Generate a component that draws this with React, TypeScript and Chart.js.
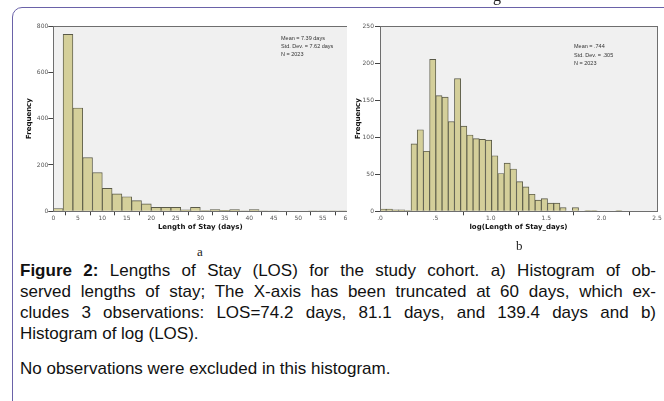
import React, { useEffect, useRef } from "react";
import { Chart, registerables } from "chart.js";
Chart.register(...registerables);

// ---- Data: histogram a) Length of Stay (days), 2-day bins from 0 to 60
const losBinStart = 0;
const losBinWidth = 2;
const losCounts = [12, 764, 446, 232, 167, 99, 75, 63, 46, 32, 17, 17, 17, 6, 17, 3, 7, 4, 7, 1, 7, 2, 1, 0, 0, 0, 1, 1, 1, 1];
const losXMax = 60;
const losXStep = 5;
const losYMax = 800;
const losYStep = 200;
const losStats = ["Mean = 7.39 days", "Std. Dev. = 7.62 days", "N = 2023"];

// ---- Data: histogram b) log(Length of Stay_days)
const logBinStart = 0;
const logBinWidth = 0.056;
const logCounts = [3, 3, 2, 2, 1, 91, 110, 81, 205, 156, 154, 121, 179, 115, 103, 98, 97, 96, 75, 51, 65, 57, 40, 33, 23, 15, 17, 11, 11, 5, 0, 5, 0, 1, 1, 0, 0, 0, 1];
const logXMax = 2.5;
const logXStep = 0.5;
const logTickLabels = [".0", ".5", "1.0", "1.5", "2.0", "2.5"];
const logYMax = 250;
const logYStep = 50;
const logStats = ["Mean = .744", "Std. Dev. = .305", "N = 2023"];

const freqTitle = "Frequency";
const losTitle = "Length of Stay (days)";
const logTitle = "log(Length of Stay_days)";

const captionLead = "Figure 2:";
const captionLines = [
  " Lengths of Stay (LOS) for the study cohort. a) Histogram of ob-",
  "served lengths of stay; The X-axis has been truncated at 60 days, which ex-",
  "cludes 3 observations: LOS=74.2 days, 81.1 days, and 139.4 days and b)",
  "Histogram of log (LOS).",
];
const noteText = "No observations were excluded in this histogram.";

const BAR_FILL = "#d4cf9a";
const BAR_EDGE = "#5a5a48";
const PLOT_BG = "#f0f0f0";
const FRAME = "#6e6e6e";
const TICK = "#444";
const TICK_LABEL = "#555";
const FONT = "DejaVu Sans";

const framePlugin = {
  id: "spssFrame",
  beforeDraw(chart: any) {
    const { ctx, chartArea } = chart;
    const { left, top, right, bottom } = chartArea;
    ctx.save();
    ctx.fillStyle = PLOT_BG;
    ctx.fillRect(left, top, right - left, bottom - top);
    ctx.restore();
  },
  afterDatasetsDraw(chart: any) {
    const { ctx, chartArea } = chart;
    const { left, top, right, bottom } = chartArea;
    ctx.save();
    ctx.strokeStyle = FRAME;
    ctx.lineWidth = 1;
    ctx.strokeRect(Math.round(left) + 0.5, Math.round(top) + 0.5, Math.round(right - left), Math.round(bottom - top));
    ctx.restore();
  },
};

type HistProps = {
  counts: number[];
  binStart: number;
  binWidth: number;
  xMax: number;
  xStep: number;
  yMax: number;
  yStep: number;
  xLabel: (v: number, i: number) => string;
  xTitle: string;
  width: number;
  height: number;
  padLeftAxis: number;
  padRight: number;
  padTop: number;
  xAxisHeight: number;
  yTitlePad: number;
  yTickPad: number;
};

function Histogram(p: HistProps) {
  const ref = useRef<HTMLCanvasElement | null>(null);
  useEffect(() => {
    if (!ref.current) return;
    const data = p.counts.map((c, i) => ({ x: p.binStart + (i + 0.5) * p.binWidth, y: c }));
    const chart = new Chart(ref.current, {
      type: "bar",
      data: {
        datasets: [
          {
            data: data as any,
            backgroundColor: BAR_FILL,
            borderColor: BAR_EDGE,
            borderWidth: 0.9,
            barPercentage: 1,
            categoryPercentage: 1,
          },
        ],
      },
      options: {
        animation: false,
        responsive: false,
        devicePixelRatio: 1,
        layout: { padding: { left: 0, top: p.padTop, right: p.padRight, bottom: 0 } },
        plugins: { legend: { display: false }, tooltip: { enabled: false }, title: { display: false } },
        scales: {
          x: {
            type: "linear",
            min: 0,
            max: p.xMax,
            offset: false,
            grid: { drawOnChartArea: false, drawTicks: true, tickLength: 4, color: TICK },
            border: { display: false },
            ticks: {
              stepSize: p.xStep,
              padding: 0,
              color: TICK_LABEL,
              font: { family: FONT, size: 6 },
              maxRotation: 0,
              autoSkip: false,
              callback: (v: any, i: number) => p.xLabel(Number(v), i),
            },
            title: {
              display: true,
              text: p.xTitle,
              color: "#111",
              font: { family: FONT, size: 7, weight: "bold" },
              padding: { top: 0, bottom: 3.8 },
            },
            afterFit: (s: any) => {
              s.height = p.xAxisHeight;
            },
          },
          y: {
            min: 0,
            max: p.yMax,
            grid: { drawOnChartArea: false, drawTicks: true, tickLength: 5, color: TICK },
            border: { display: false },
            ticks: {
              stepSize: p.yStep,
              padding: p.yTickPad,
              color: TICK_LABEL,
              font: { family: FONT, size: 6 },
            },
            title: {
              display: true,
              text: freqTitle,
              color: "#111",
              font: { family: FONT, size: 7, weight: "bold" },
              padding: { top: p.yTitlePad, bottom: 0 },
            },
            afterFit: (s: any) => {
              s.width = p.padLeftAxis;
            },
          },
        },
      },
      plugins: [framePlugin],
    });
    return () => chart.destroy();
  }, []);
  return <canvas ref={ref} width={p.width} height={p.height} style={{ width: p.width, height: p.height, display: "block" }} />;
}

const statStyle: React.CSSProperties = {
  position: "absolute",
  fontFamily: "Liberation Sans",
  fontSize: 5.5,
  lineHeight: "8px",
  color: "#333",
  whiteSpace: "nowrap",
  zIndex: 3,
};

const lineStyle = (justify: boolean): React.CSSProperties => ({
  textAlign: justify ? "justify" : "left",
  textAlignLast: justify ? "justify" : "left",
  whiteSpace: "nowrap",
  height: 21,
});

export default function App() {
  return (
    <div style={{ position: "absolute", left: 0, top: 0, width: 664, height: 401, overflow: "hidden", background: "#fff" }}>
      <div style={{ position: "absolute", left: 0, top: 0 }}>
        <Histogram
          counts={losCounts}
          binStart={losBinStart}
          binWidth={losBinWidth}
          xMax={losXMax}
          xStep={losXStep}
          yMax={losYMax}
          yStep={losYStep}
          xLabel={(v) => String(v)}
          xTitle={losTitle}
          width={380}
          height={235}
          padLeftAxis={53.3}
          padRight={32.7}
          padTop={26}
          xAxisHeight={23.7}
          yTitlePad={25.3}
          yTickPad={0}
        />
      </div>
      <div style={{ ...statStyle, left: 281, top: 34 }}>
        {losStats.map((s) => (
          <div key={s}>{s}</div>
        ))}
      </div>
      <div style={{ position: "absolute", left: 347, top: 0, background: "#fff" }}>
        <Histogram
          counts={logCounts}
          binStart={logBinStart}
          binWidth={logBinWidth}
          xMax={logXMax}
          xStep={logXStep}
          yMax={logYMax}
          yStep={logYStep}
          xLabel={(v, i) => logTickLabels[i] ?? String(v)}
          xTitle={logTitle}
          width={317}
          height={235}
          padLeftAxis={33}
          padRight={7}
          padTop={26}
          xAxisHeight={23.7}
          yTitlePad={6.8}
          yTickPad={1}
        />
      </div>
      <div style={{ ...statStyle, left: 574, top: 42, lineHeight: "8.7px" }}>
        {logStats.map((s) => (
          <div key={s}>{s}</div>
        ))}
      </div>
      <div style={{ position: "absolute", left: 197, top: 244, fontFamily: "Liberation Serif", fontSize: 13, lineHeight: "16px", color: "#222" }}>a</div>
      <div style={{ position: "absolute", left: 516, top: 238, fontFamily: "Liberation Serif", fontSize: 13, lineHeight: "16px", color: "#222" }}>b</div>
      <div style={{ position: "absolute", left: 493, top: -13, fontFamily: "Liberation Serif", fontSize: 16, lineHeight: "18px", color: "#222" }}>g</div>
      <div
        style={{
          position: "absolute",
          left: 20,
          top: 260,
          width: 636,
          fontFamily: "Liberation Sans",
          fontSize: 17,
          lineHeight: "21px",
          color: "#111",
        }}
      >
        {captionLines.map((t, i) => (
          <div key={i} style={lineStyle(i < captionLines.length - 1)}>
            {i === 0 ? <b>{captionLead}</b> : null}
            {t}
          </div>
        ))}
      </div>
      <div style={{ position: "absolute", left: 20, top: 358, fontFamily: "Liberation Sans", fontSize: 17, lineHeight: "21px", color: "#111", whiteSpace: "nowrap" }}>
        {noteText}
      </div>
      <div
        style={{
          position: "absolute",
          left: 12,
          top: 7,
          width: 700,
          height: 450,
          border: "1.5px solid #6a62a8",
          borderRadius: 10,
          boxSizing: "border-box",
          pointerEvents: "none",
          zIndex: 10,
        }}
      />
    </div>
  );
}
